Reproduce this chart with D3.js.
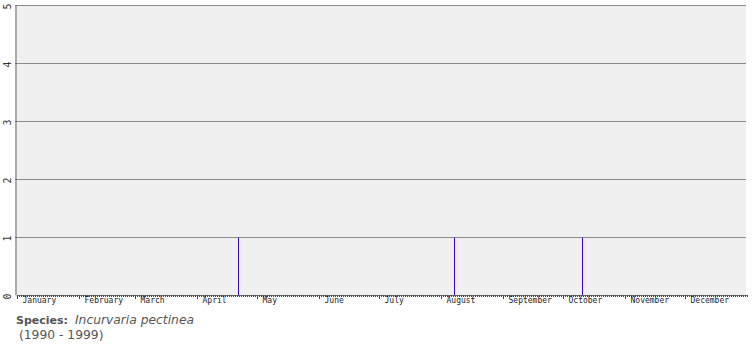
<!DOCTYPE html>
<html>
<head>
<meta charset="utf-8">
<script src="https://cdn.jsdelivr.net/npm/d3@7"></script>
<style>
  body { margin: 0; background: #fff; }
  svg { display: block; }
</style>
</head>
<body>
<script>
// months and the day of year they start on
const months = ["January", "February", "March", "April", "May", "June", "July",
    "August", "September", "October", "November", "December"];
const monthStarts = [0, 31, 59, 90, 120, 151, 181, 212, 243, 273, 304, 334];

// records: day of year and count
const recordDays = [110, 218, 282];
const recordCounts = [1, 1, 1];

const yTicks = [0, 1, 2, 3, 4, 5];

const width = 755;
const height = 350;

const svg = d3.select("body")
    .append("svg")
    .attr("width", width)
    .attr("height", height);

const xScale = d3.scaleLinear()
    .domain([0, 365])
    .range([17, 747]);

const yScale = d3.scaleLinear()
    .domain([0, 5])
    .range([295, 5]);

// plot background
svg.append("rect")
    .attr("x", 15)
    .attr("y", yScale(5))
    .attr("width", 731)
    .attr("height", yScale(0) - yScale(5))
    .attr("fill", "#f0f0f0");

// gridlines
svg.append("g")
    .selectAll("line")
    .data(yTicks.slice(1))
    .enter()
    .append("line")
    .attr("x1", 15)
    .attr("x2", 746)
    .attr("y1", d => yScale(d) + 0.5)
    .attr("y2", d => yScale(d) + 0.5)
    .attr("stroke", "#8a8a8a")
    .attr("stroke-width", 1);

// records, drawn in the middle of each day's slot
svg.append("g")
    .selectAll("line")
    .data(recordDays)
    .enter()
    .append("line")
    .attr("x1", d => xScale(d) + 1.5)
    .attr("x2", d => xScale(d) + 1.5)
    .attr("y1", (d, i) => yScale(recordCounts[i]) + 0.5)
    .attr("y2", yScale(0))
    .attr("stroke", "#3c00c0")
    .attr("stroke-width", 1);

// left axis
const yAxis = d3.axisLeft(yScale).tickValues(yTicks).tickSize(0).tickPadding(6)
    .tickFormat(d3.format("d"));
const yg = svg.append("g")
    .attr("transform", "translate(15.5,0)")
    .call(yAxis);
yg.select(".domain").attr("stroke", "#666");
yg.selectAll("text")
    .attr("font-family", "DejaVu Sans Mono")
    .attr("font-size", 10)
    .attr("fill", "#333")
    .attr("x", 0)
    .attr("y", 0)
    .attr("dy", "0.35em")
    .attr("text-anchor", d => d == 5 ? "end" : "middle")
    .attr("transform", d => "translate(-8," + (d == 5 ? -2 : 1) + ") rotate(-90)");

// bottom axis: minor day ticks
svg.append("g")
    .attr("transform", "translate(0," + 295 + ")")
    .call(d3.axisBottom(xScale).tickValues(d3.range(0, 366)).tickSize(2).tickSizeOuter(0).tickFormat(() => ""))
    .call(g => g.selectAll("line").attr("stroke", "#444"))
    .call(g => g.select(".domain").attr("stroke", "#777"));

// month ticks and labels
const xg = svg.append("g")
    .attr("transform", "translate(0," + 295 + ")")
    .call(d3.axisBottom(xScale).tickValues(monthStarts).tickSize(4)
        .tickFormat((d, i) => months[i]));
xg.select(".domain").remove();
xg.selectAll("line").attr("stroke", "#444");
xg.selectAll("text")
    .attr("font-family", "DejaVu Sans Mono")
    .attr("font-size", 8)
    .attr("fill", "#222")
    .attr("text-anchor", "start")
    .attr("x", 5)
    .attr("y", 2)
    .attr("dy", "0.71em");

// caption
const caption = svg.append("text")
    .attr("x", 16)
    .attr("y", 324)
    .attr("font-family", "DejaVu Sans")
    .attr("fill", "#555");
caption.append("tspan").attr("font-weight", "bold").attr("font-size", 11).text("Species:");
caption.append("tspan").attr("font-style", "italic").attr("font-size", 12.3).attr("dx", 7).text("Incurvaria pectinea");

svg.append("text")
    .attr("x", 19)
    .attr("y", 339)
    .attr("font-family", "DejaVu Sans")
    .attr("font-size", 12.3)
    .attr("fill", "#555")
    .text("(1990 - 1999)");
</script>
</body>
</html>
